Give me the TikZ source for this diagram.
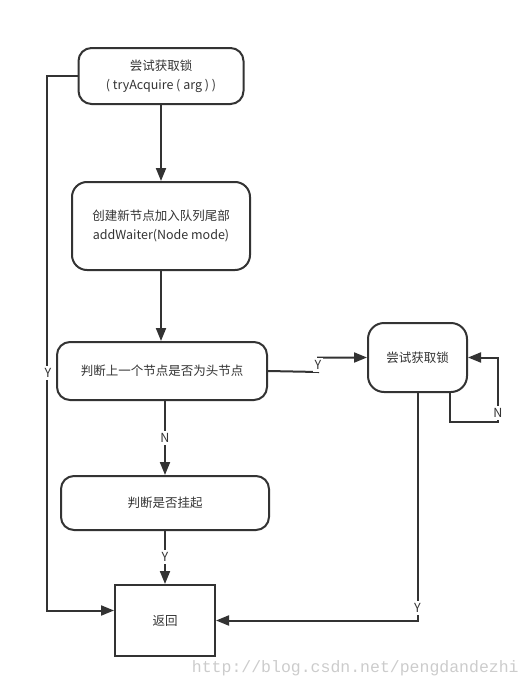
\documentclass[tikz,border=0pt]{standalone}
\usepackage{fontspec}
\setmainfont{Noto Sans CJK SC}
\newfontfamily\wmfont{Liberation Mono}
\usetikzlibrary{arrows.meta}
\definecolor{lineclr}{HTML}{333333}
\begin{document}
\begin{tikzpicture}[x=1pt, y=-1pt, line width=2pt, color=lineclr,
  >={Triangle[length=13pt,width=10pt]},
  stepbox/.style={draw=lineclr, rounded corners=13pt, align=center,
    font=\fontsize{12.5}{19}\selectfont, inner sep=0pt},
  lbl/.style={fill=white, inner xsep=1.5pt, inner ysep=2pt, font=\fontsize{12.5}{14}\selectfont}]
\useasboundingbox (0,0) rectangle (530,688);
% boxes
\node[stepbox, minimum width=165pt, minimum height=56pt] (acq) at (161,76) {尝试获取锁\\( tryAcquire ( arg ) )};
\node[stepbox, minimum width=178pt, minimum height=88pt, rounded corners=15pt] (add) at (161,226) {创建新节点加入队列尾部\\addWaiter(Node mode)};
\node[stepbox, minimum width=210pt, minimum height=58pt] (judge) at (162,371) {判断上一个节点是否为头节点};
\node[stepbox, minimum width=99pt, minimum height=69pt, rounded corners=16pt] (retry) at (417.5,357.5) {尝试获取锁};
\node[stepbox, minimum width=208pt, minimum height=54pt] (hang) at (165,503) {判断是否挂起};
\node[stepbox, minimum width=100pt, minimum height=71pt, rounded corners=0pt] (ret) at (165,620.5) {返回};
% connectors
\coordinate (bend) at (318,372);
\coordinate (loopc) at (498,422);
\draw[->] (acq) -- (acq |- add.north);
\draw[->] (add) -- (add |- judge.north);
\draw[->] (judge.east) -- (bend) -- (bend |- retry) -- (retry);
\draw[->] ([xshift=32pt]retry.south) |- (loopc) |- (retry.east);
\draw[->] (judge.south -| hang) -- (hang);
\draw[->] (hang) -- (ret);
\draw[->] (retry.south) |- (ret.east);
\draw[->] (acq.west) -- ++(-31,0) |- ([yshift=10pt]ret.west);
% labels
\node[lbl] (ya) at (318,365) {Y};
\node[lbl] (nb) at (498,413) {N};
\node[lbl] (nc) at (165,438) {N};
\node[lbl] (yd) at (165,557) {Y};
\node[lbl] (ye) at (417.5,608) {Y};
\node[lbl] (yf) at (48,373) {Y};
\node[anchor=east, text=gray!40, font=\wmfont\fontsize{16.5}{18}\selectfont] (wm) at (523,668) {http://blog.csdn.net/pengdandezhi};
\end{tikzpicture}
\end{document}
